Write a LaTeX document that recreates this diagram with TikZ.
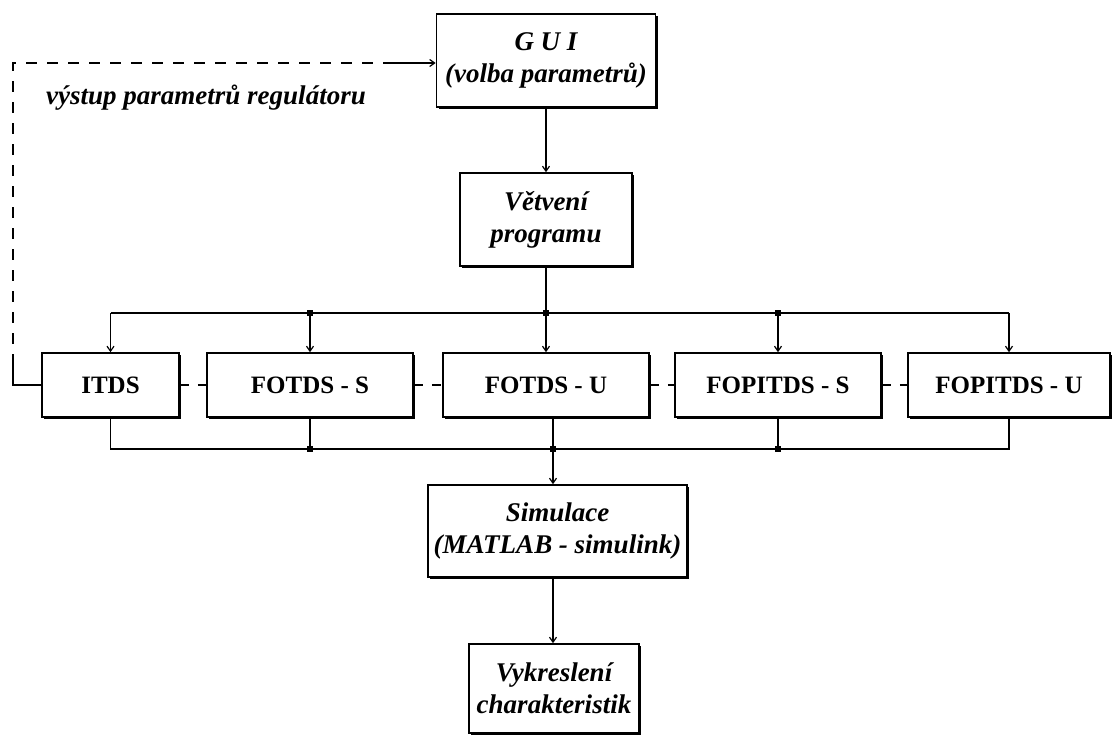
\documentclass[tikz,border=0pt]{standalone}
\usepackage{fontspec}
\setmainfont{Liberation Serif}
\usetikzlibrary{positioning}
\usetikzlibrary{arrows.meta}
\usetikzlibrary{shadows}

\begin{document}
\begin{tikzpicture}[x=1pt,y=-1pt,
  blok/.style={draw, line width=1.6pt, fill=white, align=center, inner sep=0pt,
    minimum height=64pt, font=\fontsize{25}{30}\selectfont\bfseries,
    drop shadow={shadow xshift=2pt, shadow yshift=-2pt, fill=black, opacity=1}},
  kblok/.style={blok, font=\fontsize{27}{32}\selectfont\bfseries\itshape},
  spoj/.style={line width=1.2pt},
  sip/.style={spoj, -{Straight Barb[length=5pt,width=7pt]}},
  prer/.style={spoj, dash pattern=on 9pt off 9pt},
  bod/.style={fill, rectangle, inner sep=0pt, minimum size=6pt}]
\useasboundingbox (0,0) rectangle (1114,735);

\node(gui)[kblok, minimum width=219pt, minimum height=93pt] at (546,60.5) {G U I\\(volba parametrů)};
\node(vetv)[kblok, minimum width=172pt, minimum height=93pt] at (546,219.5) {Větvení\\programu};

\node(itds)[blok, minimum width=137pt] at (110.5,385) {ITDS};
\node(fs)[blok, minimum width=206pt] at (310,385) {FOTDS - S};
\node(fu)[blok, minimum width=206pt] at (546,385) {FOTDS - U};
\node(fps)[blok, minimum width=206pt] at (778,385) {FOPITDS - S};
\node(fpu)[blok, minimum width=202pt] at (1009,385) {FOPITDS - U};

\node(sim)[kblok, minimum width=259pt, minimum height=92pt] at (557.5,531) {Simulace\\(MATLAB - simulink)};
\node(vyk)[kblok, minimum width=170pt, minimum height=89pt] at (554,688.5) {Vykreslení\\charakteristik};

\node(vyst)[font=\fontsize{27}{32}\selectfont\bfseries\itshape] at (206,98) {výstup parametrů regulátoru};

\coordinate(rozv) at (546,313);
\coordinate(sber) at (553,449);
\coordinate(z1) at (13,365);
\coordinate(roh) at (13,63);
\coordinate(z2) at (385,63);

% shora dolu
\draw[sip] (gui.south) -- (vetv.north);
\draw[spoj] (vetv.south) -- (rozv);
\draw[spoj] (itds.north |- rozv) -- (fpu.north |- rozv);
\foreach \n in {itds,fs,fu,fps,fpu}
  \draw[sip] (\n.north |- rozv) -- (\n.north);
\foreach \n in {fs,fu,fps}
  \node[bod] at (\n.north |- rozv) {};

% sber
\draw[spoj] (itds.south) -- (itds.south |- sber) -- (fpu.south |- sber) -- (fpu.south);
\draw[spoj] (fs.south) -- (fs.south |- sber);
\draw[spoj] (fps.south) -- (fps.south |- sber);
\draw[spoj] (sber |- fu.south) -- (sber);
\foreach \n in {fs,fps}
  \node[bod] at (\n.south |- sber) {};
\node[bod] at (sber) {};
\draw[sip] (sber) -- (sber |- sim.north);
\draw[sip] (sber |- sim.south) -- (sber |- vyk.north);

% prerusovane
\draw[prer] (itds.east) -- (fs.west);
\draw[prer] (fs.east) -- (fu.west);
\draw[prer] (fu.east) -- (fps.west);
\draw[prer] (fps.east) -- (fpu.west);

% zpetna vazba
\draw[spoj] (itds.west) -- (itds.west -| roh) -- (z1);
\draw[spoj, dash pattern=on 11pt off 10pt] (z1) -- (roh) -- (z2);
\draw[sip] (z2) -- (z2 -| gui.west);
\end{tikzpicture}
\end{document}
